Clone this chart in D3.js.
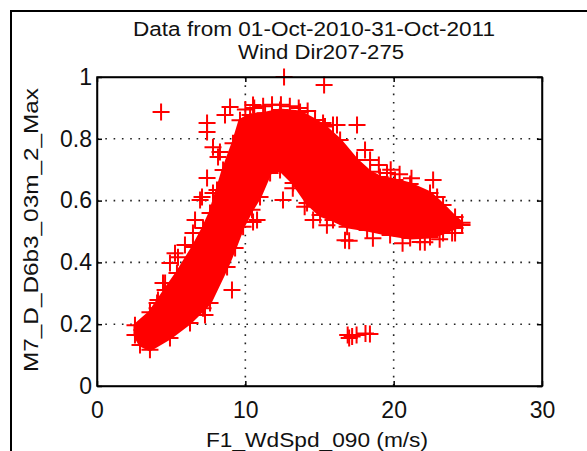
<!DOCTYPE html>
<html>
<head>
<meta charset="utf-8">
<script src="https://cdn.jsdelivr.net/npm/d3@7"></script>
<style>
  body { margin: 0; background: #fff; }
  text { font-family: "Liberation Sans", Arial, sans-serif; fill: #111; }
</style>
</head>
<body>
<script>
'use strict';

// upper edge of the dense cloud (wind speed, value)
const upperX = [2.56, 3.57, 4.59, 5.39, 6.47, 7.15, 7.62, 8.09, 8.50, 9.17, 9.64, 10.32, 11.33, 12.34, 13.69, 14.70, 15.37, 16.39, 17.53, 18.41, 19.08, 20.09, 21.11, 22.45, 23.33, 24.14, 24.61];
const upperY = [0.197, 0.239, 0.311, 0.366, 0.450, 0.511, 0.560, 0.634, 0.699, 0.786, 0.860, 0.877, 0.883, 0.893, 0.887, 0.861, 0.840, 0.796, 0.731, 0.693, 0.676, 0.667, 0.654, 0.625, 0.586, 0.547, 0.528];

// lower edge of the dense cloud
const lowerX = [2.56, 2.90, 3.57, 4.92, 6.27, 7.62, 8.77, 9.31, 9.85, 10.45, 10.99, 11.67, 12.34, 13.22, 14.16, 15.04, 15.91, 16.86, 18.21, 19.76, 21.11, 22.45, 23.33, 24.14, 24.61];
const lowerY = [0.165, 0.133, 0.117, 0.155, 0.204, 0.269, 0.385, 0.447, 0.515, 0.570, 0.612, 0.689, 0.699, 0.657, 0.592, 0.553, 0.537, 0.515, 0.505, 0.489, 0.479, 0.482, 0.495, 0.511, 0.521];

// scattered points around the cloud
const pointX = [4.32, 12.61, 15.31, 8.97, 8.63, 10.52, 7.42, 7.42, 7.82, 8.16, 7.42, 7.08, 7.82, 6.61, 6.47, 5.46, 4.92, 4.45, 4.11, 4.05,
  9.10, 7.28, 7.15, 10.52, 12.54, 14.57, 16.72, 17.00, 15.91, 17.53, 22.66, 22.93, 24.14, 21.78, 18.07, 18.41, 19.55, 15.24, 16.18, 23.94,
  8.29, 5.93, 5.26, 4.59, 4.05, 3.03, 6.95, 10.79,
  10.0, 10.6, 11.2, 11.8, 12.4, 13.0, 13.6, 14.2,
  19.0, 19.8, 20.4, 21.2, 14.0, 15.5, 18.6, 20.6, 22.1, 23.1, 13.2, 12.0,
  16.9, 17.2, 17.5, 18.1, 18.4, 17.0];
const pointY = [0.887, 1.000, 0.974, 0.903, 0.877, 0.909, 0.851, 0.822, 0.773, 0.741, 0.673, 0.612, 0.625, 0.537, 0.495, 0.417, 0.398, 0.333, 0.278, 0.252,
  0.311, 0.230, 0.252, 0.531, 0.602, 0.537, 0.472, 0.470, 0.845, 0.845, 0.667, 0.612, 0.495, 0.466, 0.764, 0.731, 0.689, 0.851, 0.845, 0.495,
  0.757, 0.456, 0.430, 0.333, 0.269, 0.181, 0.602, 0.537,
  0.895, 0.900, 0.905, 0.910, 0.910, 0.905, 0.900, 0.890,
  0.715, 0.700, 0.685, 0.672, 0.580, 0.520, 0.478, 0.462, 0.465, 0.475, 0.640, 0.720,
  0.165, 0.160, 0.165, 0.170, 0.168, 0.155];

const xTicks = [0, 10, 20, 30];
const yTicks = [0, 0.2, 0.4, 0.6, 0.8, 1];
const titleLines = ["Data from 01-Oct-2010-31-Oct-2011", "Wind Dir207-275"];

let svgContainer = d3.select('body')
  .append('svg')
  .attr('width', 587)
  .attr('height', 451);

const xScale = d3.scaleLinear().domain([0, 30]).range([97, 542]);
const yScale = d3.scaleLinear().domain([0, 1]).range([386, 77]);

// figure frame
svgContainer.append('rect')
  .attr('x', 11).attr('y', 11)
  .attr('width', 620).attr('height', 480)
  .attr('fill', '#fff')
  .attr('stroke', '#000')
  .attr('stroke-width', 2);

drawGrid();
plotData();
drawAxes();
makeLabels();

// dotted grid lines under the data
function drawGrid() {
  let grid = svgContainer.append('g')
    .attr('stroke', '#222')
    .attr('stroke-width', 1.6)
    .attr('stroke-dasharray', '1.6,6.7');

  grid.selectAll('.gx')
    .data(xTicks.slice(1, -1))
    .enter().append('line')
    .attr('x1', d => xScale(d)).attr('x2', d => xScale(d))
    .attr('y1', yScale(1)).attr('y2', yScale(0));

  grid.selectAll('.gy')
    .data(yTicks.slice(1, -1))
    .enter().append('line')
    .attr('y1', d => yScale(d)).attr('y2', d => yScale(d))
    .attr('x1', xScale(0)).attr('x2', xScale(30));
}

function plotData() {
  let upper = upperX.map((x, i) => [x, upperY[i]]);
  let lower = lowerX.map((x, i) => [x, lowerY[i]]);
  let points = pointX.map((x, i) => [x, pointY[i]]);

  // overplotted core of the cloud
  let outline = d3.line()
    .x(d => xScale(d[0]))
    .y(d => yScale(d[1]));

  svgContainer.append('path')
    .attr('d', outline(upper.concat(lower.slice().reverse())) + 'Z')
    .attr('fill', '#ff0000')
    .attr('stroke', '#ff0000')
    .attr('stroke-width', 3);

  // '+' markers
  let plus = 'M-8.5,0H8.5M0,-8.5V8.5';
  svgContainer.append('g')
    .selectAll('path')
    .data(upper.concat(lower, points))
    .enter().append('path')
    .attr('transform', d => 'translate(' + xScale(d[0]) + ',' + yScale(d[1]) + ')')
    .attr('d', plus)
    .attr('fill', 'none')
    .attr('stroke', '#ff0000')
    .attr('stroke-width', 2);
}

function drawAxes() {
  let fmt = d3.format('~g');

  svgContainer.append('g')
    .attr('transform', 'translate(0,' + yScale(0) + ')')
    .call(d3.axisBottom(xScale).tickValues(xTicks).tickFormat(fmt).tickSize(-5).tickSizeOuter(0).tickPadding(16));

  svgContainer.append('g')
    .attr('transform', 'translate(' + xScale(0) + ',0)')
    .call(d3.axisLeft(yScale).tickValues(yTicks).tickFormat(fmt).tickSize(-5).tickSizeOuter(0).tickPadding(5));

  svgContainer.append('g')
    .attr('transform', 'translate(0,' + yScale(1) + ')')
    .call(d3.axisTop(xScale).tickValues(xTicks).tickFormat('').tickSize(-5).tickSizeOuter(0));

  svgContainer.append('g')
    .attr('transform', 'translate(' + xScale(30) + ',0)')
    .call(d3.axisRight(yScale).tickValues(yTicks).tickFormat('').tickSize(-5).tickSizeOuter(0));

  svgContainer.selectAll('.domain, .tick line')
    .attr('stroke', '#000')
    .attr('stroke-width', 1.5);

  svgContainer.selectAll('.tick text')
    .style('font-size', '23px')
    .attr('fill', '#111');

  // axes box
  svgContainer.append('rect')
    .attr('x', xScale(0)).attr('y', yScale(1))
    .attr('width', xScale(30) - xScale(0))
    .attr('height', yScale(0) - yScale(1))
    .attr('fill', 'none')
    .attr('stroke', '#000')
    .attr('stroke-width', 1.5);
}

function makeLabels() {
  svgContainer.append('text')
    .attr('x', 133).attr('y', 36)
    .attr('textLength', 362)
    .attr('lengthAdjust', 'spacingAndGlyphs')
    .style('font-size', '20px')
    .text(titleLines[0]);

  svgContainer.append('text')
    .attr('x', 238).attr('y', 59)
    .attr('textLength', 166)
    .attr('lengthAdjust', 'spacingAndGlyphs')
    .style('font-size', '20px')
    .text(titleLines[1]);

  svgContainer.append('text')
    .attr('x', 206).attr('y', 447)
    .attr('textLength', 222)
    .attr('lengthAdjust', 'spacingAndGlyphs')
    .style('font-size', '20px')
    .text('F1_WdSpd_090 (m/s)');

  svgContainer.append('text')
    .attr('transform', 'translate(38,372)rotate(-90)')
    .attr('textLength', 284)
    .attr('lengthAdjust', 'spacingAndGlyphs')
    .style('font-size', '21px')
    .text('M7_D_D6b3_03m_2_Max');
}
</script>
</body>
</html>
